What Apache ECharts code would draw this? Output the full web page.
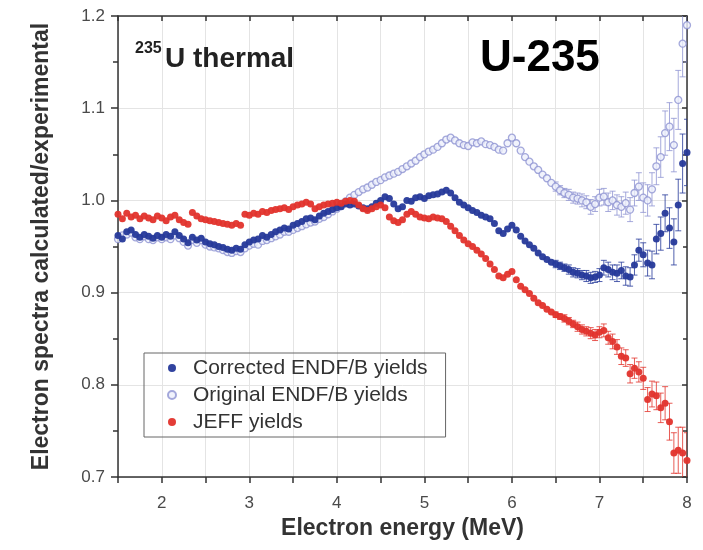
<!DOCTYPE html>
<html>
<head>
<meta charset="utf-8">
<script src="https://cdn.jsdelivr.net/npm/echarts@6/dist/echarts.min.js"></script>
<style>
  html, body { margin: 0; padding: 0; background: #fff; }
  #chart { width: 703px; height: 550px; }
</style>
</head>
<body>
<div id="chart"></div>
<script>
// energy grid: 1.50 .. 8.00 MeV in 0.05 MeV steps
const E_START = 1.5
const E_STEP = 0.05

// Corrected ENDF/B yields
const corrected = [
  0.962, 0.958, 0.966, 0.968, 0.963, 0.960, 0.963, 0.961, 0.959, 0.962,
  0.960, 0.963, 0.961, 0.966, 0.962, 0.958, 0.954, 0.960, 0.957, 0.959,
  0.955, 0.953, 0.952, 0.950, 0.949, 0.947, 0.946, 0.948, 0.947, 0.952,
  0.955, 0.957, 0.958, 0.962, 0.960, 0.963, 0.966, 0.968, 0.970, 0.969,
  0.973, 0.975, 0.977, 0.980, 0.981, 0.979, 0.983, 0.986, 0.988, 0.990,
  0.992, 0.993, 0.996, 0.995, 0.996, 0.994, 0.992, 0.991, 0.993, 0.997,
  1.000, 1.004, 1.002, 0.996, 0.991, 0.993, 1.000, 0.999, 1.003, 1.004,
  1.002, 1.005, 1.006, 1.007, 1.009, 1.011, 1.008, 1.003, 0.998, 0.995,
  0.992, 0.989, 0.987, 0.984, 0.982, 0.980, 0.975, 0.967, 0.964, 0.969,
  0.973, 0.968, 0.961, 0.956, 0.952, 0.948, 0.943, 0.939, 0.936, 0.933,
  0.931, 0.929, 0.927, 0.925, 0.922, 0.921, 0.919, 0.918, 0.916, 0.917,
  0.919, 0.927, 0.925, 0.922, 0.921, 0.924, 0.918, 0.917, 0.930, 0.946,
  0.941, 0.932, 0.930, 0.958, 0.964, 0.986, 0.970, 0.955, 0.995, 1.040,
  1.052
]

// Original ENDF/B yields
const original = [
  0.958, 0.962, 0.963, 0.965, 0.960, 0.958, 0.961, 0.958, 0.957, 0.960,
  0.958, 0.960, 0.958, 0.962, 0.959, 0.955, 0.951, 0.957, 0.954, 0.957,
  0.952, 0.950, 0.949, 0.948, 0.946, 0.944, 0.943, 0.945, 0.944, 0.948,
  0.951, 0.953, 0.952, 0.956, 0.957, 0.959, 0.961, 0.963, 0.966, 0.966,
  0.968, 0.970, 0.972, 0.974, 0.976, 0.977, 0.980, 0.982, 0.985, 0.988,
  0.991, 0.995, 0.999, 1.003, 1.006, 1.009, 1.012, 1.014, 1.017, 1.020,
  1.022, 1.025, 1.027, 1.029, 1.031, 1.034, 1.037, 1.040, 1.043, 1.047,
  1.050, 1.053, 1.055, 1.058, 1.062, 1.066, 1.068, 1.065, 1.062, 1.060,
  1.059, 1.063, 1.062, 1.064, 1.061, 1.060, 1.058, 1.055, 1.054, 1.062,
  1.068, 1.062, 1.054, 1.047, 1.042, 1.037, 1.033, 1.028, 1.024, 1.019,
  1.015, 1.011, 1.008, 1.006, 1.003, 1.002, 1.000, 0.998, 0.993, 0.996,
  1.003, 1.004, 0.998, 1.000, 0.995, 0.993, 0.997, 0.990, 1.008, 1.015,
  1.003, 1.000, 1.012, 1.037, 1.047, 1.073, 1.080, 1.060, 1.109, 1.170,
  1.190
]

// JEFF yields
const jeff = [
  0.985, 0.980, 0.986, 0.982, 0.984, 0.980, 0.983, 0.981, 0.979, 0.983,
  0.981, 0.978, 0.982, 0.984, 0.979, 0.976, 0.974, 0.987, 0.983, 0.980,
  0.979, 0.978, 0.977, 0.976, 0.975, 0.974, 0.973, 0.975, 0.973, 0.985,
  0.984, 0.986, 0.985, 0.988, 0.987, 0.989, 0.990, 0.991, 0.992, 0.990,
  0.993, 0.995, 0.996, 0.998, 0.996, 0.991, 0.993, 0.995, 0.996, 0.997,
  0.998, 0.997, 0.999, 1.000, 0.999, 0.995, 0.991, 0.989, 0.991, 0.993,
  0.995, 0.992, 0.982, 0.978, 0.976, 0.979, 0.985, 0.988, 0.985, 0.982,
  0.981, 0.980, 0.982, 0.981, 0.980, 0.977, 0.972, 0.967, 0.962, 0.957,
  0.953, 0.950, 0.946, 0.942, 0.937, 0.931, 0.925, 0.918, 0.916, 0.920,
  0.923, 0.914, 0.907, 0.903, 0.899, 0.894, 0.889, 0.886, 0.882, 0.879,
  0.876, 0.874, 0.872, 0.869, 0.866, 0.863, 0.860, 0.858, 0.856, 0.854,
  0.857, 0.859, 0.851, 0.847, 0.841, 0.831, 0.829, 0.812, 0.818, 0.814,
  0.807, 0.784, 0.790, 0.788, 0.775, 0.780, 0.760, 0.726, 0.729, 0.726,
  0.718
]

// error bars only drawn for the high energy tail, 6.50 .. 8.00 MeV
const ERR_FROM = 100
const correctedErr = [
  0.004, 0.004, 0.004, 0.005, 0.005, 0.005, 0.005, 0.006, 0.006, 0.006,
  0.007, 0.008, 0.008, 0.008, 0.009, 0.009, 0.010, 0.010, 0.011, 0.012,
  0.013, 0.014, 0.015, 0.016, 0.018, 0.020, 0.022, 0.025, 0.028, 0.032,
  0.036
]
const originalErr = [
  0.005, 0.005, 0.005, 0.006, 0.006, 0.006, 0.007, 0.007, 0.008, 0.008,
  0.009, 0.009, 0.010, 0.010, 0.011, 0.011, 0.012, 0.013, 0.014, 0.015,
  0.016, 0.017, 0.018, 0.020, 0.022, 0.024, 0.026, 0.029, 0.032, 0.036,
  0.040
]
const jeffErr = [
  0.003, 0.003, 0.004, 0.004, 0.004, 0.005, 0.005, 0.005, 0.006, 0.006,
  0.006, 0.007, 0.007, 0.008, 0.008, 0.009, 0.009, 0.010, 0.011, 0.011,
  0.012, 0.013, 0.014, 0.015, 0.016, 0.018, 0.020, 0.022, 0.025, 0.028,
  0.030
]

const xTicks = ['2', '3', '4', '5', '6', '7', '8']

const BLUE = '#26399a'
const LIGHT = '#8e93d2'
const RED = '#e2332c'
const FONT = 'Liberation Sans, Arial, sans-serif'

function energy(i) {
  return +(E_START + i * E_STEP).toFixed(2)
}

function points(vals) {
  return vals.map((v, i) => [energy(i), v])
}

function errPoints(vals, errs) {
  return errs.map((e, k) => [energy(ERR_FROM + k), vals[ERR_FROM + k], e])
}

function errSeries(name, vals, errs, color) {
  return {
    name: name,
    type: 'custom',
    clip: true,
    silent: true,
    data: errPoints(vals, errs),
    renderItem(params, api) {
      const x = api.value(0), y = api.value(1), e = api.value(2)
      const hi = api.coord([x, y + e])
      const lo = api.coord([x, y - e])
      const style = { stroke: color, lineWidth: 1, opacity: 0.8 }
      return {
        type: 'group',
        children: [
          { type: 'line', shape: { x1: hi[0], y1: hi[1], x2: lo[0], y2: lo[1] }, style: style },
          { type: 'line', shape: { x1: hi[0] - 3, y1: hi[1], x2: hi[0] + 3, y2: hi[1] }, style: style },
          { type: 'line', shape: { x1: lo[0] - 3, y1: lo[1], x2: lo[0] + 3, y2: lo[1] }, style: style }
        ]
      }
    }
  }
}

const axisFont = { fontFamily: FONT, fontSize: 17, color: '#4a4a4a' }
const gridColor = '#e4e4e4'
const frame = { show: true, onZero: false, lineStyle: { color: '#333', width: 1.5 } }

const chart = echarts.init(document.getElementById('chart'))
chart.setOption({
  animation: false,
  backgroundColor: '#fff',
  grid: { left: 118, right: 16, top: 16, bottom: 73 },
  graphic: [
    { type: 'text', z: 100, left: 135, top: 41, style: { text: '235', font: 'bold 16px ' + FONT, fill: '#222' } },
    { type: 'text', z: 100, left: 165, top: 45, style: { text: 'U thermal', font: 'bold 28px ' + FONT, fill: '#222' } },
    { type: 'text', z: 100, left: 480, top: 37, style: { text: 'U-235', font: 'bold 44px ' + FONT, fill: '#000' } }
  ],
  legend: {
    orient: 'vertical',
    left: 144,
    top: 353,
    data: ['Corrected ENDF/B yields', 'Original ENDF/B yields', 'JEFF yields'],
    padding: [4, 18, 4, 23],
    itemGap: 5,
    itemWidth: 8,
    itemHeight: 8,
    borderColor: '#666',
    borderWidth: 1,
    borderRadius: 0,
    textStyle: {
      fontFamily: FONT,
      fontSize: 21,
      lineHeight: 22,
      color: '#333',
      padding: [0, 0, 0, 12]
    }
  },
  xAxis: [
    {
      type: 'value',
      min: 1.5,
      max: 8,
      interval: 0.5,
      name: 'Electron energy (MeV)',
      nameLocation: 'middle',
      nameGap: 38,
      nameTextStyle: { fontFamily: FONT, fontSize: 23, fontWeight: 'bold', color: '#333' },
      axisLine: frame,
      axisTick: { show: true, length: 6, lineStyle: { color: '#333', width: 1.5 } },
      axisLabel: {
        margin: 18,
        ...axisFont,
        formatter: v => {
          const s = String(v)
          return xTicks.includes(s) ? s : ''
        }
      },
      splitLine: { show: true, lineStyle: { color: gridColor, width: 1 } }
    },
    {
      type: 'value',
      position: 'top',
      min: 1.5,
      max: 8,
      interval: 0.5,
      axisLine: frame,
      axisTick: { show: true, inside: true, length: 5, lineStyle: { color: '#333', width: 1.5 } },
      axisLabel: { show: false },
      splitLine: { show: false }
    }
  ],
  yAxis: [
    {
      type: 'value',
      min: 0.7,
      max: 1.2,
      interval: 0.1,
      name: 'Electron spectra calculated/experimental',
      nameLocation: 'middle',
      nameGap: 65,
      nameTextStyle: { fontFamily: FONT, fontSize: 23, fontWeight: 'bold', color: '#333' },
      axisLine: frame,
      axisTick: { show: true, length: 7, lineStyle: { color: '#333', width: 1.5 } },
      minorTick: { show: true, splitNumber: 2, length: 5, lineStyle: { color: '#333', width: 1.5 } },
      axisLabel: { margin: 13, ...axisFont, formatter: v => v.toFixed(1) },
      splitLine: { show: true, lineStyle: { color: gridColor, width: 1 } }
    },
    {
      type: 'value',
      position: 'right',
      min: 0.7,
      max: 1.2,
      interval: 0.1,
      axisLine: frame,
      axisTick: { show: true, inside: true, length: 5, lineStyle: { color: '#333', width: 1.5 } },
      minorTick: { show: true, splitNumber: 2, length: 4, lineStyle: { color: '#333', width: 1.5 } },
      axisLabel: { show: false },
      splitLine: { show: false }
    }
  ],
  series: [
    errSeries('Original err', original, originalErr, LIGHT),
    {
      name: 'Original ENDF/B yields',
      type: 'scatter',
      symbol: 'circle',
      symbolSize: 7,
      data: points(original),
      itemStyle: { color: '#eef0fb', borderColor: LIGHT, borderWidth: 1.3 }
    },
    errSeries('Corrected err', corrected, correctedErr, BLUE),
    {
      name: 'Corrected ENDF/B yields',
      type: 'scatter',
      symbol: 'circle',
      symbolSize: 7,
      data: points(corrected),
      itemStyle: { color: BLUE, opacity: 0.95 }
    },
    errSeries('JEFF err', jeff, jeffErr, RED),
    {
      name: 'JEFF yields',
      type: 'scatter',
      symbol: 'circle',
      symbolSize: 7,
      data: points(jeff),
      itemStyle: { color: RED, opacity: 0.95 }
    }
  ]
})
</script>
</body>
</html>
